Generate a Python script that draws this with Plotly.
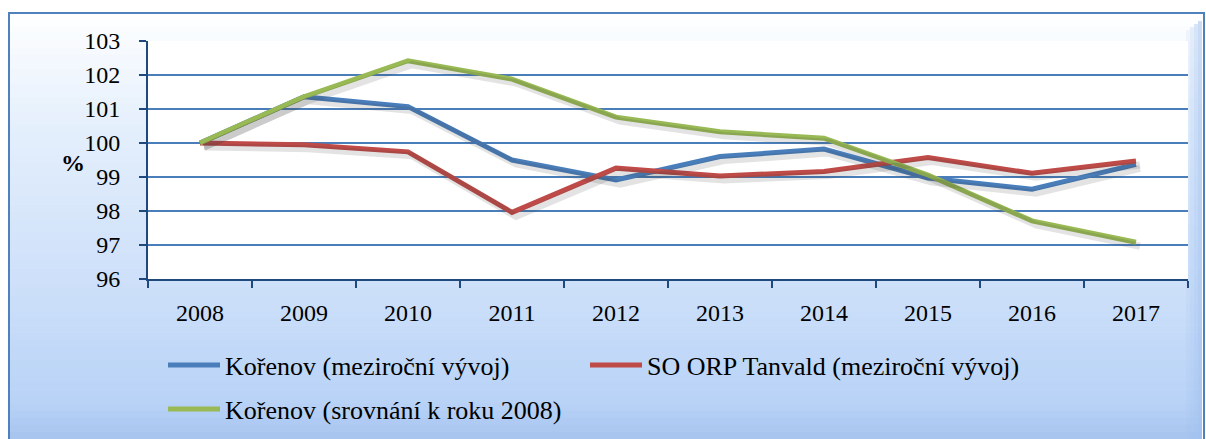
import plotly.graph_objects as go

years = ["2008", "2009", "2010", "2011", "2012", "2013", "2014", "2015", "2016", "2017"]
korenov_yoy = [100.0, 101.36, 101.07, 99.5, 98.91, 99.6, 99.82, 98.97, 98.64, 99.37]
tanvald_yoy = [100.0, 99.95, 99.74, 97.96, 99.26, 99.03, 99.16, 99.57, 99.11, 99.47]
korenov_2008 = [100.0, 101.36, 102.42, 101.88, 100.76, 100.33, 100.14, 99.06, 97.71, 97.08]

names = ["Kořenov (meziroční vývoj)", "SO ORP Tanvald (meziroční vývoj)", "Kořenov (srovnání k roku 2008)"]
colors = ["#4a7ebb", "#be4b48", "#98b954"]
series = [korenov_yoy, tanvald_yoy, korenov_2008]
legends = ["legend", "legend2", "legend3"]

W, H = 1206, 439
L, R, T, B = 148, 18, 41, 160
pw = W - L - R
ph = H - T - B


def px_x(p):
    return (p - L) / pw


def px_y(p):
    return (H - B - p) / ph


stops = [(0.0, (255, 255, 255)), (0.25, (230, 240, 252)), (0.7, (201, 221, 249)),
         (0.92, (184, 210, 246)), (1.0, (166, 196, 239))]


def grad(t):
    for (t0, c0), (t1, c1) in zip(stops[:-1], stops[1:]):
        if t0 <= t <= t1:
            f = (t - t0) / (t1 - t0)
            return "rgb(%d,%d,%d)" % tuple(round(a + (b - a) * f) for a, b in zip(c0, c1))
    return "rgb(166,196,239)"


shapes = []
top, bot, left, right = 12, H, 8, W - 4
n = 60
step = (bot - top) / n
for i in range(n):
    y0 = top + i * step
    y1 = y0 + step + 0.6
    shapes.append(dict(type="rect", xref="paper", yref="paper", layer="below",
                       x0=px_x(left), x1=px_x(right), y0=px_y(y1), y1=px_y(y0),
                       fillcolor=grad((i + 0.5) / n), line=dict(width=0)))
for k, a in enumerate([0.12, 0.25, 0.4, 0.55]):
    shapes.append(dict(type="rect", xref="paper", yref="paper", layer="below",
                       x0=px_x(right - 16 + 4 * k), x1=px_x(right - 12 + 4 * k),
                       y0=px_y(bot), y1=px_y(top + 18 - 3 * k),
                       fillcolor=f"rgba(160,192,238,{a})", line=dict(width=0)))
shapes.append(dict(type="rect", xref="paper", yref="paper", layer="below",
                   x0=0, x1=1, y0=0, y1=1, fillcolor="#ffffff", line=dict(width=0)))
shapes.append(dict(type="rect", xref="paper", yref="paper", layer="above",
                   x0=px_x(left + 1), x1=px_x(right + 2), y0=px_y(bot + 2), y1=px_y(top + 1),
                   fillcolor="rgba(0,0,0,0)", line=dict(color="#4f81bd", width=2)))

fig = go.Figure()
for vals in series:
    fig.add_trace(go.Scatter(x=years, y=vals, mode="lines", xaxis="x2", yaxis="y2",
                             line=dict(color="rgba(60,60,60,0.14)", width=7),
                             showlegend=False, hoverinfo="skip"))
for name, vals, c, lg in zip(names, series, colors, legends):
    fig.add_trace(go.Scatter(x=years, y=vals, mode="lines", name=name, legend=lg,
                             line=dict(color=c, width=5)))

FAM = "Liberation Serif"
font = dict(family=FAM, size=24, color="#000000")

leg_common = dict(orientation="h", xref="container", yref="container", xanchor="left", yanchor="middle",
                  itemwidth=52, font=dict(family=FAM, size=26, color="#000"), bgcolor="rgba(0,0,0,0)")

fig.update_layout(
    width=W, height=H,
    margin=dict(l=L, r=R, t=T, b=B, autoexpand=False),
    paper_bgcolor="#ffffff",
    plot_bgcolor="rgba(0,0,0,0)",
    font=font,
    shapes=shapes,
    xaxis=dict(type="category", tickson="boundaries", ticks="outside", ticklen=7,
               tickcolor="#1f497d", tickwidth=1.5, showgrid=False,
               showline=True, linecolor="#1f497d", linewidth=2,
               range=[-0.5, 9.5], ticklabelstandoff=11,
               tickfont=dict(family=FAM, size=24, color="#000")),
    yaxis=dict(range=[96, 103], dtick=1, ticks="outside", ticklen=7,
               tickcolor="#1f497d", tickwidth=1.5,
               showgrid=True, gridcolor="#4a7ebb", gridwidth=1.5,
               showline=True, linecolor="#1f497d", linewidth=2, zeroline=False,
               ticklabelstandoff=14, tickfont=dict(family=FAM, size=24, color="#000")),
    xaxis2=dict(type="category", overlaying="x", range=[-0.5 - 4 / 104, 9.5 - 4 / 104],
                visible=False, showgrid=False),
    yaxis2=dict(overlaying="y", range=[96 + 4 / 34, 103 + 4 / 34], visible=False, showgrid=False),
    legend=dict(x=163 / W, y=1 - 365 / H, **leg_common),
    legend2=dict(x=585 / W, y=1 - 365 / H, **leg_common),
    legend3=dict(x=163 / W, y=1 - 409 / H, **leg_common),
    annotations=[dict(text="<b>%</b>", x=px_x(59), y=px_y(163), xref="paper", yref="paper",
                      showarrow=False, font=dict(family=FAM, size=24, color="#000"))],
)

fig.write_html("out.html", post_script="document.body.style.margin='0';",
               config={"displayModeBar": False})
